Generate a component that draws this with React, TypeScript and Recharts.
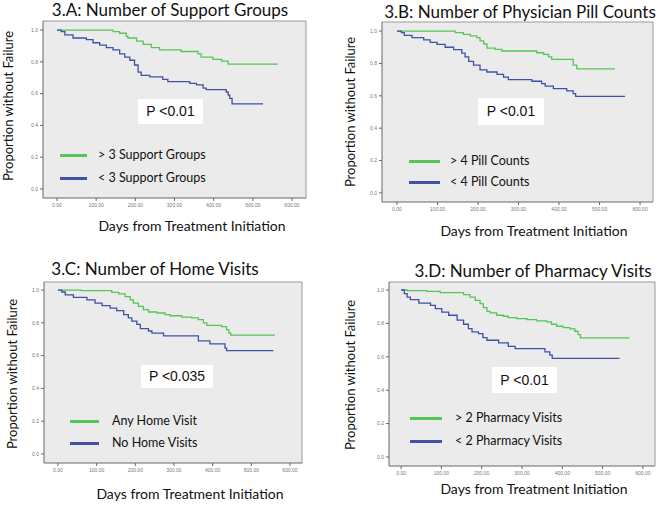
import {
  CartesianGrid,
  Line,
  LineChart,
  ReferenceLine,
  XAxis,
  YAxis,
} from "recharts";

type Pt = [number, number];

// Kaplan-Meier step points [day, proportion]
const supportHigh: Pt[] = [
  [0, 1], [143, 0.99], [160, 0.98], [177, 0.96], [181, 0.95], [203, 0.93], [220, 0.91],
  [241, 0.89], [262, 0.875], [317, 0.865], [360, 0.85], [368, 0.83], [398, 0.815],
  [420, 0.805], [437, 0.785], [564, 0.785],
];
const supportLow: Pt[] = [
  [0, 1], [11, 0.99], [20, 0.97], [41, 0.95], [75, 0.94], [92, 0.92], [109, 0.905],
  [126, 0.89], [143, 0.875], [160, 0.85], [173, 0.83], [186, 0.81], [198, 0.78],
  [207, 0.735], [215, 0.715], [237, 0.705], [270, 0.69], [283, 0.675], [339, 0.665],
  [356, 0.655], [373, 0.635], [381, 0.625], [432, 0.61], [437, 0.59], [441, 0.57],
  [447, 0.535], [526, 0.535],
];
const pillHigh: Pt[] = [
  [0, 1], [144, 0.99], [164, 0.98], [181, 0.97], [197, 0.96], [205, 0.94], [214, 0.92],
  [222, 0.895], [242, 0.887], [259, 0.877], [345, 0.866], [362, 0.856], [374, 0.84],
  [382, 0.825], [435, 0.79], [444, 0.767], [538, 0.767],
];
const pillLow: Pt[] = [
  [0, 1], [11, 0.99], [18, 0.973], [37, 0.96], [66, 0.946], [82, 0.93], [99, 0.918],
  [119, 0.9], [140, 0.885], [160, 0.864], [168, 0.84], [177, 0.813], [189, 0.79],
  [205, 0.76], [222, 0.747], [247, 0.732], [263, 0.716], [275, 0.7], [333, 0.69],
  [357, 0.675], [366, 0.66], [386, 0.644], [419, 0.63], [435, 0.613], [441, 0.597],
  [563, 0.597],
];
const homeAny: Pt[] = [
  [0, 1], [60, 0.996], [139, 0.986], [157, 0.976], [174, 0.96], [187, 0.94], [195, 0.92],
  [208, 0.9], [221, 0.88], [234, 0.866], [256, 0.86], [277, 0.85], [290, 0.843],
  [320, 0.835], [346, 0.83], [363, 0.82], [376, 0.8], [385, 0.785], [423, 0.777],
  [436, 0.757], [442, 0.737], [447, 0.725], [561, 0.725],
];
const homeNone: Pt[] = [
  [0, 1], [10, 0.988], [19, 0.97], [40, 0.955], [75, 0.94], [96, 0.92], [114, 0.905],
  [135, 0.89], [152, 0.875], [170, 0.85], [182, 0.83], [191, 0.81], [204, 0.79],
  [213, 0.765], [234, 0.75], [243, 0.737], [273, 0.72], [363, 0.69], [393, 0.672],
  [432, 0.646], [436, 0.63], [557, 0.63],
];
const pharmHigh: Pt[] = [
  [0, 1], [15, 0.996], [64, 0.992], [97, 0.984], [155, 0.972], [171, 0.958], [184, 0.938],
  [196, 0.918], [204, 0.894], [213, 0.872], [221, 0.863], [237, 0.849], [254, 0.843],
  [266, 0.835], [287, 0.829], [312, 0.823], [336, 0.815], [361, 0.809], [373, 0.795],
  [386, 0.783], [402, 0.775], [419, 0.767], [431, 0.753], [439, 0.733], [445, 0.713],
  [567, 0.713],
];
const pharmLow: Pt[] = [
  [0, 1], [8, 0.978], [15, 0.958], [23, 0.942], [44, 0.922], [73, 0.908], [85, 0.888],
  [101, 0.868], [118, 0.849], [139, 0.82], [155, 0.795], [167, 0.769], [176, 0.749],
  [192, 0.739], [203, 0.715], [213, 0.699], [242, 0.683], [266, 0.663], [283, 0.649],
  [357, 0.63], [369, 0.61], [375, 0.59], [542, 0.59],
];

const xTicks = [0, 100, 200, 300, 400, 500, 600];
const yTicks = [0, 0.2, 0.4, 0.6, 0.8, 1.0];

const GREEN = "#55c655";
const BLUE = "#4250a6";
const FONT = "Lato, 'Open Sans', sans-serif";

const toRows = (pts: Pt[]) => pts.map(([d, s]) => ({ d, s }));

type PanelProps = {
  title: string;
  pValue: string;
  greenLabel: string;
  blueLabel: string;
  green: Pt[];
  blue: Pt[];
  frame: { x: number; y: number; w: number; h: number };
  xDomain: [number, number];
  yDomain: [number, number];
  titleAt: [number, number];
  xLabelAt: [number, number];
  yLabelAt: [number, number];
  pBox: { x: number; y: number; w: number; h: number };
  legend: { x: number; y1: number; y2: number; w: number; textX: number };
};

function Panel(p: PanelProps) {
  const yAxisW = 30;
  const xAxisH = 14;
  const top = 2;
  return (
    <>
      <div
        style={{
          position: "absolute",
          left: p.frame.x - yAxisW,
          top: p.frame.y - top,
        }}
      >
        <LineChart
          width={p.frame.w + yAxisW + 2}
          height={p.frame.h + top + xAxisH}
          margin={{ top, right: 2, left: 0, bottom: 0 }}
        >
          <CartesianGrid fill="#ebebeb" horizontal={false} vertical={false} />
          <XAxis
            dataKey="d"
            type="number"
            domain={p.xDomain}
            ticks={xTicks}
            allowDataOverflow
            height={xAxisH}
            tickSize={3}
            tickFormatter={(v: number) => v.toFixed(2)}
            tick={{ fontSize: 5, fill: "#777", fontFamily: "Arial" }}
            stroke="#666"
          />
          <YAxis
            dataKey="s"
            type="number"
            domain={p.yDomain}
            ticks={yTicks}
            allowDataOverflow
            width={yAxisW}
            tickSize={3}
            tickFormatter={(v: number) => v.toFixed(1)}
            tick={{ fontSize: 5, fill: "#777", fontFamily: "Arial" }}
            stroke="#666"
          />
          <ReferenceLine y={p.yDomain[1]} stroke="#999" />
          <ReferenceLine x={p.xDomain[1]} stroke="#999" />
          <Line
            data={toRows(p.green)}
            dataKey="s"
            type="stepAfter"
            stroke={GREEN}
            strokeWidth={1.3}
            dot={false}
            isAnimationActive={false}
          />
          <Line
            data={toRows(p.blue)}
            dataKey="s"
            type="stepAfter"
            stroke={BLUE}
            strokeWidth={1.3}
            dot={false}
            isAnimationActive={false}
          />
        </LineChart>
      </div>
      <div
        style={{
          position: "absolute",
          left: p.titleAt[0] - 200,
          top: p.titleAt[1] - 11,
          width: 400,
          textAlign: "center",
          fontFamily: FONT,
          fontSize: 17,
          lineHeight: "22px",
          color: "#111",
          whiteSpace: "nowrap",
        }}
      >
        {p.title}
      </div>
      <div
        style={{
          position: "absolute",
          left: p.xLabelAt[0] - 150,
          top: p.xLabelAt[1] - 9,
          width: 300,
          textAlign: "center",
          fontFamily: FONT,
          fontSize: 14,
          lineHeight: "18px",
          color: "#111",
        }}
      >
        Days from Treatment Initiation
      </div>
      <div
        style={{
          position: "absolute",
          left: p.yLabelAt[0] - 100,
          top: p.yLabelAt[1] - 9,
          width: 200,
          textAlign: "center",
          fontFamily: FONT,
          fontSize: 13,
          lineHeight: "18px",
          color: "#111",
          transform: "rotate(-90deg)",
        }}
      >
        Proportion without Failure
      </div>
      <div
        style={{
          position: "absolute",
          left: p.pBox.x,
          top: p.pBox.y,
          width: p.pBox.w,
          height: p.pBox.h,
          background: "#fff",
          textAlign: "center",
          lineHeight: `${p.pBox.h}px`,
          fontFamily: "'Liberation Sans', Arial, sans-serif",
          fontSize: 14,
          color: "#111",
        }}
      >
        {p.pValue}
      </div>
      {[
        { c: GREEN, y: p.legend.y1, t: p.greenLabel },
        { c: BLUE, y: p.legend.y2, t: p.blueLabel },
      ].map((it) => (
        <div key={it.t}>
          <div
            style={{
              position: "absolute",
              left: p.legend.x,
              top: it.y - 1.5,
              width: p.legend.w,
              height: 3,
              background: it.c,
            }}
          />
          <div
            style={{
              position: "absolute",
              left: p.legend.textX,
              top: it.y - 9,
              fontFamily: FONT,
              fontSize: 12.5,
              lineHeight: "18px",
              color: "#111",
              whiteSpace: "nowrap",
            }}
          >
            {it.t}
          </div>
        </div>
      ))}
    </>
  );
}

export default function App() {
  return (
    <div
      style={{
        position: "absolute",
        left: 0,
        top: 0,
        width: 661,
        height: 505,
        background: "#fff",
        overflow: "hidden",
      }}
    >
      <Panel
        title="3.A: Number of Support Groups"
        pValue="P <0.01"
        greenLabel="> 3 Support Groups"
        blueLabel="< 3 Support Groups"
        green={supportHigh}
        blue={supportLow}
        frame={{ x: 43, y: 21, w: 263, h: 177 }}
        xDomain={[-35.7, 635.7]}
        yDomain={[-0.057, 1.057]}
        titleAt={[170, 10]}
        xLabelAt={[192, 226]}
        yLabelAt={[8, 106]}
        pBox={{ x: 138, y: 99, w: 65, h: 25 }}
        legend={{ x: 60, y1: 155, y2: 178, w: 27, textX: 98 }}
      />
      <Panel
        title="3.B: Number of Physician Pill Counts"
        pValue="P <0.01"
        greenLabel="> 4 Pill Counts"
        blueLabel="< 4 Pill Counts"
        green={pillHigh}
        blue={pillLow}
        frame={{ x: 382, y: 22, w: 271, h: 180 }}
        xDomain={[-37, 632]}
        yDomain={[-0.056, 1.056]}
        titleAt={[520, 12]}
        xLabelAt={[534, 231]}
        yLabelAt={[350, 112]}
        pBox={{ x: 478, y: 98, w: 66, h: 27 }}
        legend={{ x: 409, y1: 161, y2: 182, w: 31, textX: 450 }}
      />
      <Panel
        title="3.C: Number of Home Visits"
        pValue="P <0.035"
        greenLabel="Any Home Visit"
        blueLabel="No Home Visits"
        green={homeAny}
        blue={homeNone}
        frame={{ x: 44, y: 282, w: 258, h: 181 }}
        xDomain={[-36, 631]}
        yDomain={[-0.055, 1.049]}
        titleAt={[155, 269]}
        xLabelAt={[190, 494]}
        yLabelAt={[12, 374]}
        pBox={{ x: 141, y: 365, w: 72, h: 23 }}
        legend={{ x: 70, y1: 421, y2: 443, w: 29, textX: 112 }}
      />
      <Panel
        title="3.D: Number of Pharmacy Visits"
        pValue="P <0.01"
        greenLabel="> 2 Pharmacy Visits"
        blueLabel="< 2 Pharmacy Visits"
        green={pharmHigh}
        blue={pharmLow}
        frame={{ x: 389, y: 282, w: 266, h: 184 }}
        xDomain={[-30, 630]}
        yDomain={[-0.054, 1.048]}
        titleAt={[533, 271]}
        xLabelAt={[534, 489]}
        yLabelAt={[350, 375]}
        pBox={{ x: 492, y: 367, w: 65, h: 26 }}
        legend={{ x: 410, y1: 418, y2: 441, w: 32, textX: 455 }}
      />
    </div>
  );
}
